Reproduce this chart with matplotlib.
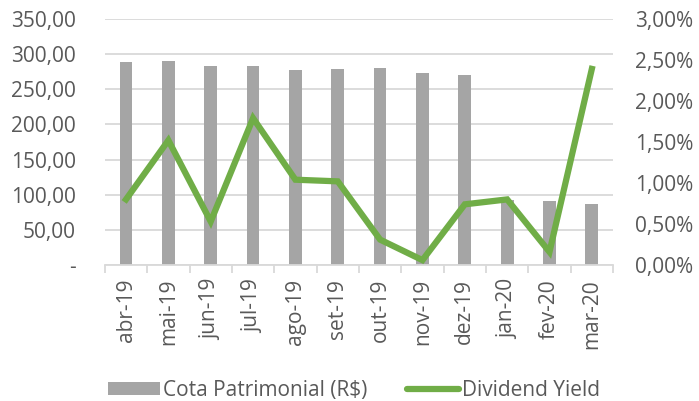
import matplotlib
matplotlib.use("Agg")
import matplotlib.pyplot as plt
from matplotlib.ticker import FuncFormatter, MultipleLocator
from matplotlib.lines import Line2D
from matplotlib.patches import Patch

plt.rcParams['font.family'] = ['Open Sans', 'DejaVu Sans']

categories = ["abr-19", "mai-19", "jun-19", "jul-19", "ago-19", "set-19",
              "out-19", "nov-19", "dez-19", "jan-20", "fev-20", "mar-20"]
cota = [288, 290, 283.5, 282.6, 277, 278.4, 280.7, 272.6, 269.8, 92, 91, 87]
dy = [0.80, 1.52, 0.53, 1.79, 1.04, 1.02, 0.31, 0.06, 0.74, 0.80, 0.16, 2.39]

TXT = "#595959"
BAR = "#a5a5a5"
GREEN = "#70ad47"
GRID = "#d9d9d9"
FS = 15

fig = plt.figure(figsize=(6.99, 4.01), dpi=100)
ax = fig.add_axes([0.150, 0.339, 0.727, 0.614])
x = list(range(len(categories)))
ax.bar(x, cota, width=0.3, color=BAR, zorder=2)
ax.set_xlim(-0.5, len(categories) - 0.5)
ax.set_ylim(0, 350)
ax.yaxis.set_major_locator(MultipleLocator(50))

def left_fmt(v, p):
    if abs(v) < 1e-9:
        return "-"
    return f"{v:.2f}".replace(".", ",")

ax.yaxis.set_major_formatter(FuncFormatter(left_fmt))
ax.grid(axis='y', color=GRID, linewidth=1.3, zorder=0)
ax.set_axisbelow(True)
for s in ["top", "right", "left"]:
    ax.spines[s].set_visible(False)
ax.spines["bottom"].set_color(GRID)
ax.spines["bottom"].set_linewidth(1.3)
ax.tick_params(axis='y', length=0, labelsize=FS, labelcolor=TXT, pad=21)
ax.set_xticks(x)
ax.set_xticklabels(categories, rotation=90)
ax.set_xticks([i - 0.5 for i in range(len(categories) + 1)], minor=True)
ax.tick_params(axis='x', which='major', length=0, labelsize=FS, labelcolor=TXT, pad=10)
ax.tick_params(axis='x', which='minor', length=6, color=GRID, width=1.3)

ax2 = ax.twinx()
ax2.plot(x, [v / 100 for v in dy], color=GREEN, linewidth=4.5, solid_joinstyle='miter', zorder=3)
ax2.set_ylim(0, 0.03)
ax2.yaxis.set_major_locator(MultipleLocator(0.005))
ax2.yaxis.set_major_formatter(FuncFormatter(lambda v, p: f"{v*100:.2f}%".replace(".", ",")))
for s in ["top", "right", "left", "bottom"]:
    ax2.spines[s].set_visible(False)
ax2.tick_params(axis='y', length=0, labelsize=FS, labelcolor=TXT, pad=16)

handles = [Patch(facecolor=BAR, edgecolor='none'),
           Line2D([0], [0], color=GREEN, linewidth=4.5, solid_capstyle='round')]
fig.legend(handles, ["Cota Patrimonial (R$)", "Dividend Yield"],
           loc='center', bbox_to_anchor=(0.506, 0.027), ncol=2, frameon=False,
           fontsize=FS, labelcolor=TXT, handlelength=2.5, handleheight=0.63,
           handletextpad=0.15, columnspacing=1.9, borderpad=0)

fig.savefig("out.png", dpi=100)
